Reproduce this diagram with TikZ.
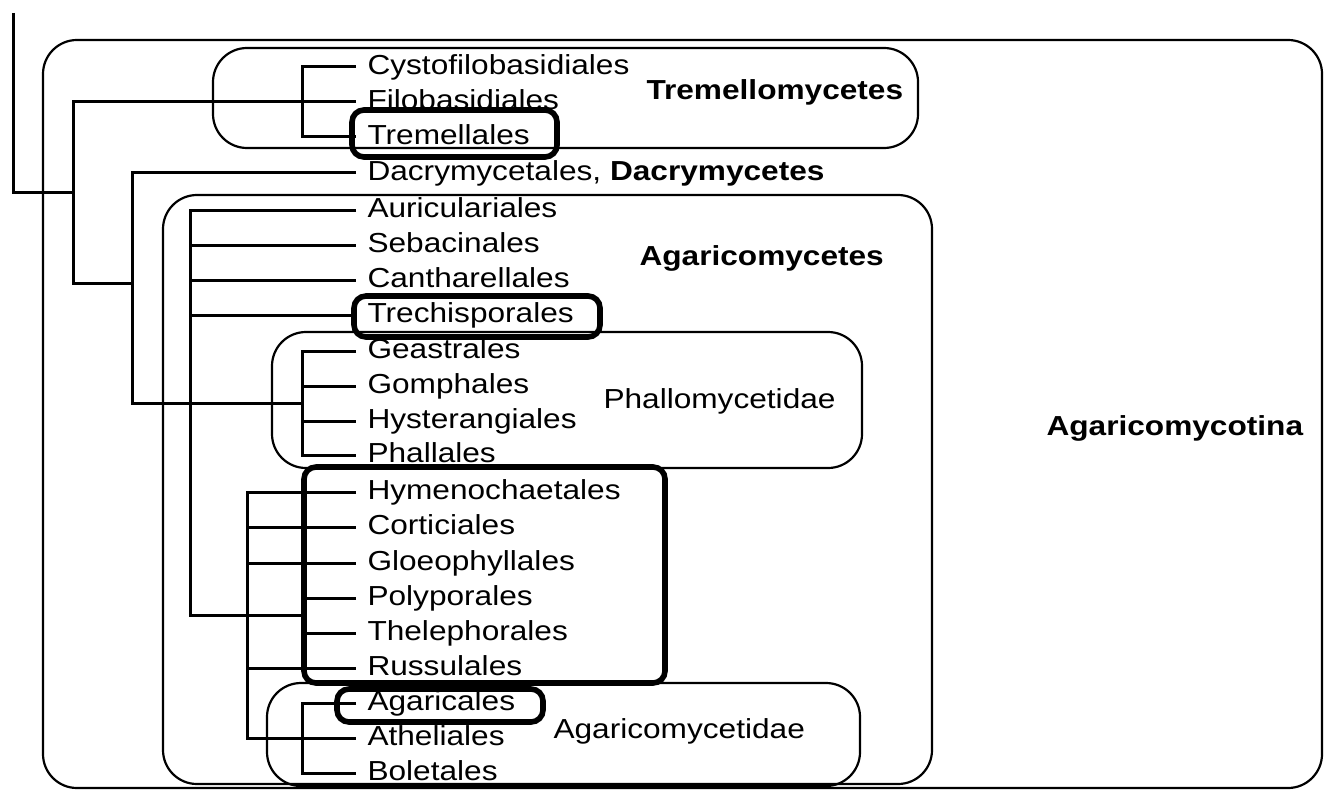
\documentclass[tikz,border=0pt]{standalone}
\usepackage{fontspec}
\setmainfont{Liberation Sans}[FakeStretch=1.15]
\begin{document}
\begin{tikzpicture}[x=0.5pt,y=-0.5pt,line width=1.5pt,
  order/.style={anchor=west, inner xsep=5pt, inner ysep=0pt, text height=0.72em, text depth=0pt, font=\fontsize{13.75}{16}\selectfont},
  group/.style={anchor=base west, inner sep=0pt, font=\fontsize{13.75}{16}\selectfont},
  clade/.style={draw, line width=1.1pt, rounded corners=17pt},
  hilite/.style={draw, line width=2.8pt, rounded corners=6pt}]
\useasboundingbox (0,0) rectangle (1325,791);
% clade boxes
\draw[clade] (43,40) rectangle (1322,788);
\draw[clade] (213,48) rectangle (918,148);
\draw[clade] (163,195) rectangle (932,784);
\draw[clade] (272,332) rectangle (862,468);
\draw[clade] (267,683) rectangle (860,786);
\draw[hilite] (304,467) rectangle (665,683);
\draw[hilite] (352,110) rectangle (557,157);
\draw[hilite] (354,296) rectangle (600,337);
\draw[hilite] (337,689) rectangle (543,722);
% orders
\node[order] (cys) at (356,67) {Cystofilobasidiales};
\node[order] (fil) at (356,102) {Filobasidiales};
\node[order] (tre) at (356,137) {Tremellales};
\node[order] (dac) at (356,173) {Dacrymycetales, \textbf{Dacrymycetes}};
\node[order] (aur) at (356,210) {Auriculariales};
\node[order] (seb) at (356,245) {Sebacinales};
\node[order] (can) at (356,280) {Cantharellales};
\node[order] (trc) at (356,315) {Trechisporales};
\node[order] (gea) at (356,351) {Geastrales};
\node[order] (gom) at (356,386) {Gomphales};
\node[order] (hys) at (356,421) {Hysterangiales};
\node[order] (pha) at (356,455) {Phallales};
\node[order] (hym) at (356,492) {Hymenochaetales};
\node[order] (cor) at (356,527) {Corticiales};
\node[order] (glo) at (356,563) {Gloeophyllales};
\node[order] (pol) at (356,598) {Polyporales};
\node[order] (the) at (356,633) {Thelephorales};
\node[order] (rus) at (356,668) {Russulales};
\node[order] (aga) at (356,703) {Agaricales};
\node[order] (ath) at (356,738) {Atheliales};
\node[order] (bol) at (356,773) {Boletales};
% group names
\node[group] (tremy) at (645,100) {\textbf{Tremellomycetes}};
\node[group] (agamy) at (638,265) {\textbf{Agaricomycetes}};
\node[group] (phamy) at (602,408) {Phallomycetidae};
\node[group] (agacd) at (552,738) {Agaricomycetidae};
\node[group] (agaco) at (1045,435) {\textbf{Agaricomycotina}};
% tree
\coordinate (top) at (13,13);
\coordinate (r0) at (13,193);
\coordinate (r1) at (73,193);
\coordinate (d1) at (132,283);
\coordinate (tm) at (302,102);
\coordinate (ph) at (302,403);
\coordinate (ag) at (190,615);
\coordinate (po) at (304,615);
\coordinate (hy) at (247,600);
\coordinate (am) at (302,738);
\draw (top) -- (r0) -- (r1);
\draw (fil.west) -| (r1) |- (d1);
\draw (cys.west) -| (tm) |- (tre.west);
\draw (dac.west) -| (d1) |- (ph);
\draw (gea.west) -| (ph) |- (pha.west);
\draw (gom.west -| ph) -- (gom.west);
\draw (hys.west -| ph) -- (hys.west);
\draw (aur.west) -| (ag) -- (po);
\draw (seb.west -| ag) -- (seb.west);
\draw (can.west -| ag) -- (can.west);
\draw (trc.west -| ag) -- (trc.west);
\draw (pol.west) -| (po) |- (the.west);
\draw (hym.west) -| (hy) |- (ath.west);
\draw (cor.west -| hy) -- (cor.west);
\draw (glo.west -| hy) -- (glo.west);
\draw (rus.west -| hy) -- (rus.west);
\draw (aga.west) -| (am) |- (bol.west);
\end{tikzpicture}
\end{document}
